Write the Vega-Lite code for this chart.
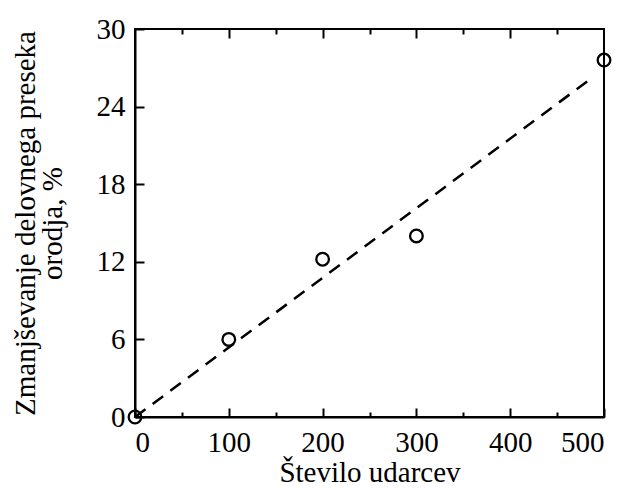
{
  "$schema": "https://vega.github.io/schema/vega-lite/v6.json",
  "width": 469,
  "height": 388,
  "autosize": {"type": "none"},
  "padding": {"left": 135, "top": 29, "right": 21, "bottom": 71},
  "background": "white",
  "config": {
    "font": "Liberation Serif",
    "view": {"stroke": "black", "strokeWidth": 2},
    "axis": {
      "domainColor": "black", "domainWidth": 2, "tickColor": "black", "tickWidth": 2,
      "labelColor": "black", "titleColor": "black", "labelFont": "Liberation Serif", "titleFont": "Liberation Serif",
      "labelFontSize": 29, "titleFontSize": 29, "titleFontWeight": "normal", "grid": false
    }
  },
  "datasets": {
    "pts": [
      {"udarci": 0, "zmanjsanje": 0},
      {"udarci": 100, "zmanjsanje": 6},
      {"udarci": 200, "zmanjsanje": 12.2},
      {"udarci": 300, "zmanjsanje": 14},
      {"udarci": 500, "zmanjsanje": 27.6}
    ],
    "fit": [
      {"udarci": 0, "zmanjsanje": 0},
      {"udarci": 485, "zmanjsanje": 26.1}
    ]
  },
  "layer": [
    {
      "data": {"name": "fit"},
      "mark": {"type": "line", "color": "black", "strokeWidth": 2.5, "strokeDash": [13, 9]},
      "encoding": {
        "x": {"field": "udarci", "type": "quantitative", "scale": {"domain": [0, 500], "nice": false},
          "axis": {"orient": "top", "title": null, "labels": false, "domain": false,
            "values": [50, 100, 150, 200, 250, 300, 350, 400, 450],
            "tickSize": {"condition": {"test": "datum.value % 100 === 0", "value": -9}, "value": -5}}},
        "y": {"field": "zmanjsanje", "type": "quantitative", "scale": {"domain": [0, 30], "nice": false},
          "axis": {"orient": "left", "title": ["Zmanjševanje delovnega preseka", "orodja, %"], "titlePadding": 29, "titleLineHeight": 27,
            "values": [0, 3, 6, 9, 12, 15, 18, 21, 24, 27, 30],
            "labelExpr": "datum.value % 6 === 0 ? datum.label : ''",
            "tickSize": {"condition": {"test": "datum.value % 6 === 0", "value": -9}, "value": -5},
            "labelPadding": 19}}
      }
    },
    {
      "data": {"name": "pts"},
      "mark": {"type": "point", "shape": "circle", "filled": false, "color": "black", "opacity": 1, "strokeWidth": 2.3, "size": 160, "clip": false},
      "encoding": {
        "x": {"field": "udarci", "type": "quantitative",
          "axis": {"orient": "bottom", "title": "Število udarcev", "titlePadding": 1,
            "values": [0, 50, 100, 150, 200, 250, 300, 350, 400, 450, 500],
            "labelExpr": "datum.value % 100 === 0 ? datum.label : ''",
            "tickSize": {"condition": {"test": "datum.value % 100 === 0", "value": -9}, "value": -5},
            "labelPadding": 20}},
        "y": {"field": "zmanjsanje", "type": "quantitative"}
      }
    }
  ],
  "resolve": {"axis": {"x": "independent"}}
}
